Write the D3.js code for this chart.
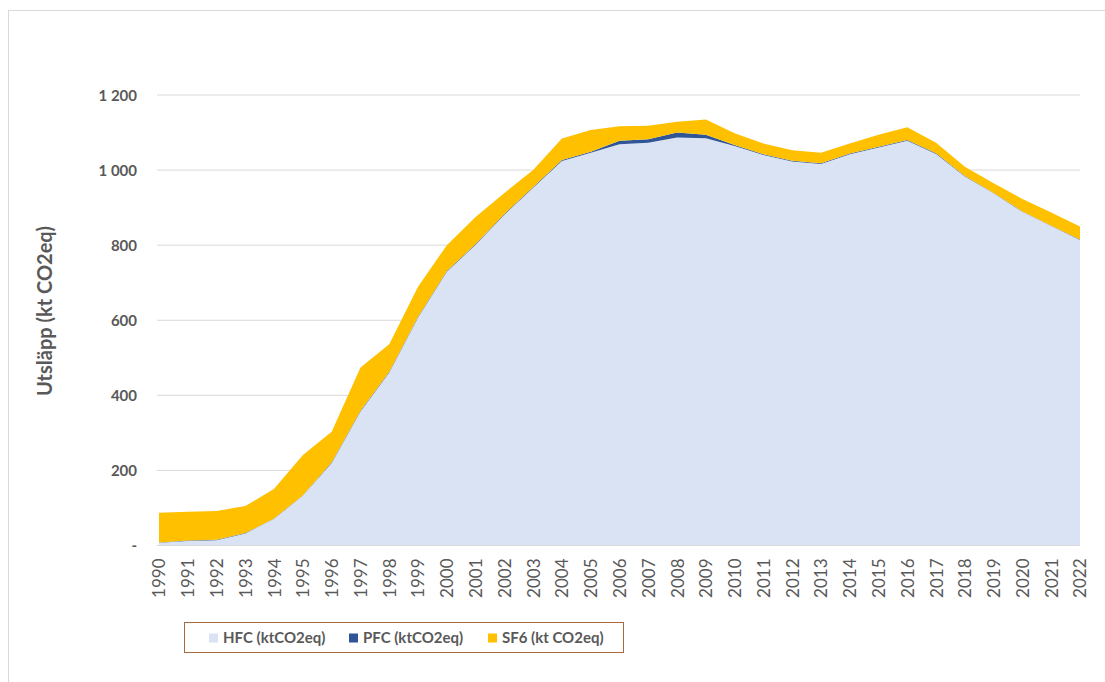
<!DOCTYPE html>
<html>
<head>
<meta charset="utf-8">
<script src="https://cdn.jsdelivr.net/npm/d3@7.9.0/dist/d3.min.js"></script>
<style>
  body { margin: 0; background: #fff; }
  svg { display: block; font-family: Lato, "Open Sans", sans-serif; }
</style>
</head>
<body>
<svg id="chart" width="1105" height="682"></svg>
<script>
// years on the x axis
const years = d3.range(1990, 2023);

// emissions per gas, kt CO2eq
const hfc = [7, 12, 14, 32, 71, 133, 220, 357, 461, 607, 729, 801, 881, 953, 1024, 1046, 1069, 1073, 1087, 1085,
  1064, 1040, 1023, 1016, 1042, 1060, 1078, 1043, 983, 938, 889, 851, 814];
const pfc = [1, 1, 1, 1, 1, 1, 2, 2, 2, 2, 2, 2, 2, 2, 3, 3, 9, 9, 13, 9,
  3, 2, 2, 2, 2, 2, 2, 2, 1, 1, 1, 1, 1];
const sf6 = [79, 77, 77, 72, 79, 107, 81, 115, 73, 80, 69, 72, 56, 45, 57, 58, 39, 36, 29, 41,
  31, 29, 28, 28, 27, 32, 34, 28, 25, 26, 33, 35, 35];

const seriesKeys = ["hfc", "pfc", "sf6"];
const seriesNames = ["HFC (ktCO2eq)", "PFC (ktCO2eq)", "SF6 (kt CO2eq)"];
const yTicks = [0, 200, 400, 600, 800, 1000, 1200];

const rows = years.map((yr, i) => ({ year: yr, hfc: hfc[i], pfc: pfc[i], sf6: sf6[i] }));

const svg = d3.select("#chart");
const margin = { left: 159, right: 25, top: 95, bottom: 136.5 };
const width = +svg.attr("width");
const height = +svg.attr("height");
const textColor = "#595959";

// outer chart frame (only left/top edges fall inside the picture)
svg.append("rect")
  .attr("x", 8.5).attr("y", 10.5)
  .attr("width", 1200).attr("height", 800)
  .attr("fill", "none")
  .attr("stroke", "#d9d9d9");

const x = d3.scaleLinear()
  .domain([1990, 2022])
  .range([margin.left, width - margin.right]);

const y = d3.scaleLinear()
  .domain([0, 1200])
  .range([height - margin.bottom, margin.top]);

const color = d3.scaleOrdinal()
  .domain(seriesKeys)
  .range(["#dae3f3", "#2f5597", "#ffc000"]);

// gridlines
svg.append("g")
  .selectAll("line")
  .data(yTicks.slice(1))
  .enter()
  .append("line")
  .attr("x1", 157).attr("x2", x(2022))
  .attr("y1", d => y(d)).attr("y2", d => y(d))
  .attr("stroke", "#d9d9d9")
  .attr("stroke-width", 1);

// stacked areas
const stack = d3.stack().keys(seriesKeys);
const layers = stack(rows);

const area = d3.area()
  .x(d => x(d.data.year))
  .y0(d => y(d[0]))
  .y1(d => y(d[1]));

svg.append("g")
  .selectAll("path")
  .data(layers)
  .enter()
  .append("path")
  .attr("d", area)
  .attr("fill", d => color(d.key));

// baseline
svg.append("line")
  .attr("x1", 157).attr("x2", x(2022))
  .attr("y1", y(0)).attr("y2", y(0))
  .attr("stroke", "#d9d9d9");

// y axis labels
const yAxis = d3.axisLeft(y)
  .tickValues(yTicks)
  .tickSize(0)
  .tickPadding(0)
  .tickFormat(d => d === 0 ? "-" : d3.format(",")(d).replace(",", " "));

svg.append("g")
  .attr("transform", "translate(137,0)")
  .call(yAxis)
  .call(g => g.select(".domain").remove())
  .selectAll("text")
  .attr("fill", textColor)
  .attr("font-size", "15px")
  .attr("font-weight", "bold")
  .attr("font-family", "Lato, sans-serif")
  .attr("dy", "0.35em");

// x axis labels (rotated)
const xAxis = d3.axisBottom(x)
  .tickValues(years)
  .tickSize(0)
  .tickFormat(d3.format("d"));

svg.append("g")
  .attr("transform", `translate(0,${y(0)})`)
  .call(xAxis)
  .call(g => g.select(".domain").remove())
  .selectAll("text")
  .attr("fill", textColor)
  .attr("font-size", "17px")
  .attr("font-family", "Lato, sans-serif")
  .attr("text-anchor", "end")
  .attr("transform", "rotate(-90)")
  .attr("x", -13)
  .attr("y", 0)
  .attr("dy", "0.35em");

// y axis title
svg.append("text")
  .attr("transform", "translate(45,311) rotate(-90)")
  .attr("text-anchor", "middle")
  .attr("dy", "0.35em")
  .attr("fill", textColor)
  .attr("font-size", "20px")
  .attr("font-weight", "bold")
  .text("Utsläpp (kt CO2eq)");

// legend
svg.append("rect")
  .attr("x", 184.5).attr("y", 622.5)
  .attr("width", 439).attr("height", 30)
  .attr("fill", "#fff")
  .attr("stroke", "#a86a3d");

const legendX = [209, 349, 488];
const legend = svg.append("g")
  .selectAll("g")
  .data(seriesKeys)
  .enter()
  .append("g")
  .attr("transform", (d, i) => `translate(${legendX[i]},638)`);

legend.append("rect")
  .attr("x", 0).attr("y", -4.5)
  .attr("width", 9).attr("height", 9)
  .attr("fill", d => color(d));

legend.append("text")
  .attr("x", 14)
  .attr("dy", "0.35em")
  .attr("fill", textColor)
  .attr("font-size", "15px")
  .attr("font-weight", "bold")
  .text((d, i) => seriesNames[i]);
</script>
</body>
</html>
